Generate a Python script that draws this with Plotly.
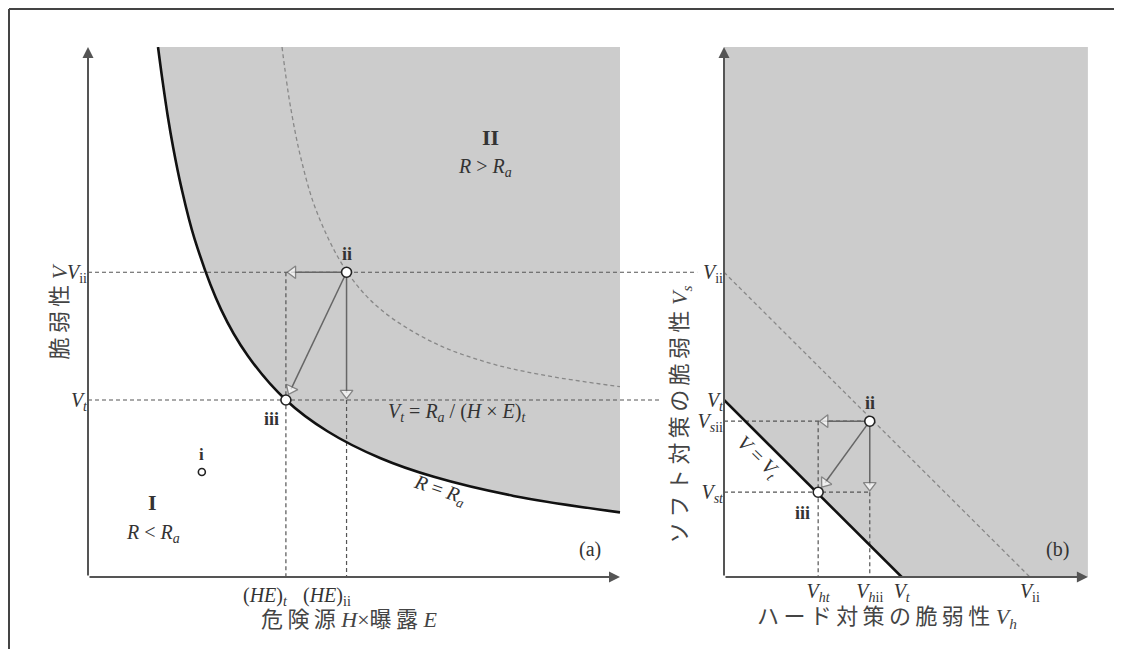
import math
import plotly.graph_objects as go

# the page body has an 8px margin; the figure is sized to fill the window exactly
PAGE_W, PAGE_H = 1122, 657
BODY = 8
W, H = PAGE_W - 2 * BODY, PAGE_H - 2 * BODY

# ---------------- data: panel (a) ----------------
HE_t, HE_ii = 3.72, 4.86          # (HE)_t, (HE)_ii
V_t, V_ii = 3.34, 5.75            # V_t, V_ii
point_i = (2.14, 1.98)            # state i

# R = Ra boundary
curve_R_HE = [1.316, 1.4, 1.5, 1.6, 1.75, 2.0, 2.5, 3.0, 3.72, 4.5, 5.5, 6.5, 8.0, 10.0]
curve_R_V = [10.0, 9.37, 8.69, 8.11, 7.37, 6.39, 5.05, 4.18, 3.34, 2.75, 2.24, 1.89, 1.53, 1.22]
# dashed iso-risk curve through ii
curve_ii_HE = [3.647, 3.7, 3.8, 4.0, 4.3, 4.86, 5.5, 6.5, 7.5, 8.5, 10.0]
curve_ii_V = [10.0, 9.59, 8.91, 7.91, 6.89, 5.77, 5.05, 4.42, 4.05, 3.82, 3.59]

a_ytick_vals = [V_ii, V_t]
a_ytick_text = ["<i>V</i><sub>ii</sub>", "<i>V</i><sub><i>t</i></sub>"]
a_xtick_vals = [HE_t, HE_ii]
a_xtick_text = ["(<i>HE</i>)<sub><i>t</i></sub>", "(<i>HE</i>)<sub>ii</sub>"]

# ---------------- data: panel (b) ----------------
V_ht, V_hii = 1.77, 2.74
V_st, V_sii = 1.60, 2.94

b_xtick_vals = [V_ht, V_hii, V_t, V_ii]
b_xtick_text = ["<i>V</i><sub><i>ht</i></sub>", "<i>V</i><sub><i>h</i>ii</sub>",
                "<i>V</i><sub><i>t</i></sub>", "<i>V</i><sub>ii</sub>"]
b_ytick_vals = [V_ii, V_t, V_sii, V_st]
b_ytick_text = ["<i>V</i><sub>ii</sub>", "<i>V</i><sub><i>t</i></sub>",
                "<i>V</i><sub><i>s</i>ii</sub>", "<i>V</i><sub><i>st</i></sub>"]

# ---------------- layout geometry (screen pixels) ----------------
SX, SY = 53.2, 53.0
A_X0_PX, B_X0_PX, Y0_PX = 88, 724, 577
A_XRANGE, A_AXIS_END = 11.55, 10.0
B_XRANGE = 6.84
Y_RANGE = 10.0
VII_GUIDE_END = 11.45
VT_GUIDE_END = 10.79


def px_x(sx):
    return (sx - BODY) / W


def px_y(sy):
    return (H - (sy - BODY)) / H


dom_ax = [px_x(A_X0_PX), px_x(A_X0_PX + A_XRANGE * SX)]
dom_bx = [px_x(B_X0_PX), px_x(B_X0_PX + B_XRANGE * SX)]
dom_y = [px_y(Y0_PX), px_y(Y0_PX - Y_RANGE * SY)]

FILL = "#cccccc"
GUIDE = "#555555"
ARROW = "#666666"
TXT = "#333333"
FONT = "Liberation Serif, Noto Sans CJK JP"

fig = go.Figure()


def line(xs, ys, xa, ya, color=GUIDE, width=1.2, dash="4px,3px"):
    fig.add_trace(go.Scatter(x=xs, y=ys, xaxis=xa, yaxis=ya, mode="lines",
                             line=dict(color=color, width=width, dash=dash),
                             hoverinfo="skip", showlegend=False))


def arrow(xa, ya, x0, y0, x1, y1, off=0.13):
    dx, dy = x1 - x0, y1 - y0
    L = math.hypot(dx, dy)
    hx, hy = x1 - dx / L * off, y1 - dy / L * off
    fig.add_trace(go.Scatter(
        x=[x0, hx], y=[y0, hy], xaxis=xa, yaxis=ya, mode="lines+markers",
        line=dict(color=ARROW, width=1.5),
        marker=dict(symbol="triangle-up", size=[0, 11], color="white",
                    angleref="previous", line=dict(color=ARROW, width=1.3)),
        hoverinfo="skip", showlegend=False))


def points(xs, ys, xa, ya, size=10):
    fig.add_trace(go.Scatter(x=xs, y=ys, xaxis=xa, yaxis=ya, mode="markers",
                             marker=dict(symbol="circle", size=size, color="white",
                                         line=dict(color="#222222", width=1.6)),
                             hoverinfo="skip", showlegend=False))


# ---------- panel (a) ----------
fill_x = curve_R_HE + [A_AXIS_END, curve_R_HE[0]]
fill_y = curve_R_V + [Y_RANGE, Y_RANGE]
fig.add_trace(go.Scatter(x=fill_x, y=fill_y, xaxis="x", yaxis="y", mode="lines",
                         fill="toself", fillcolor=FILL, line=dict(width=0),
                         hoverinfo="skip", showlegend=False))

line([0, VII_GUIDE_END], [V_ii, V_ii], "x", "y")
line([0, VT_GUIDE_END], [V_t, V_t], "x", "y")
line([HE_t, HE_t], [V_ii, 0], "x", "y")
line([HE_ii, HE_ii], [V_t, 0], "x", "y")
fig.add_trace(go.Scatter(x=curve_ii_HE, y=curve_ii_V, xaxis="x", yaxis="y", mode="lines",
                         line=dict(color="#888888", width=1.3, dash="4px,3px", shape="spline"),
                         hoverinfo="skip", showlegend=False))
fig.add_trace(go.Scatter(x=curve_R_HE, y=curve_R_V, xaxis="x", yaxis="y", mode="lines",
                         line=dict(color="#111111", width=2.6, shape="spline"),
                         hoverinfo="skip", showlegend=False))

arrow("x", "y", HE_ii, V_ii, HE_t, V_ii, 0.13)
arrow("x", "y", HE_ii, V_ii, HE_ii, V_t, 0.13)
arrow("x", "y", HE_ii, V_ii, HE_t, V_t, 0.22)
points([HE_ii, HE_t], [V_ii, V_t], "x", "y", 10)
points([point_i[0]], [point_i[1]], "x", "y", 7)

# ---------- panel (b) ----------
fig.add_trace(go.Scatter(x=[0, V_t, B_XRANGE, B_XRANGE, 0],
                         y=[V_t, 0, 0, Y_RANGE, Y_RANGE],
                         xaxis="x2", yaxis="y2", mode="lines", fill="toself",
                         fillcolor=FILL, line=dict(width=0),
                         hoverinfo="skip", showlegend=False))
line([0, V_ii], [V_ii, 0], "x2", "y2", color="#888888", width=1.3)
line([0, V_hii], [V_sii, V_sii], "x2", "y2")
line([0, V_hii], [V_st, V_st], "x2", "y2")
line([V_ht, V_ht], [V_sii, 0], "x2", "y2")
line([V_hii, V_hii], [V_st, 0], "x2", "y2")
line([0, V_t], [V_t, 0], "x2", "y2", color="#111111", width=2.6, dash="solid")

arrow("x2", "y2", V_hii, V_sii, V_ht, V_sii, 0.13)
arrow("x2", "y2", V_hii, V_sii, V_hii, V_st, 0.13)
arrow("x2", "y2", V_hii, V_sii, V_ht, V_st, 0.22)
points([V_hii, V_ht], [V_sii, V_st], "x2", "y2", 10)

# ---------- axes ----------
axis_common = dict(showgrid=False, zeroline=False, showline=False, ticks="",
                   tickangle=0, fixedrange=True,
                   tickfont=dict(family=FONT, size=20, color=TXT))
fig.update_layout(
    width=W, height=H, margin=dict(l=0, r=0, t=0, b=0),
    paper_bgcolor="white", plot_bgcolor="rgba(0,0,0,0)",
    xaxis=dict(domain=dom_ax, range=[0, A_XRANGE], anchor="y",
               showticklabels=False, **axis_common),
    yaxis=dict(domain=dom_y, range=[0, Y_RANGE], anchor="x",
               tickvals=a_ytick_vals, ticktext=a_ytick_text, **axis_common),
    xaxis2=dict(domain=dom_bx, range=[0, B_XRANGE], anchor="y2",
                tickvals=b_xtick_vals, ticktext=b_xtick_text, **axis_common),
    yaxis2=dict(domain=dom_y, range=[0, Y_RANGE], anchor="x2",
                tickvals=b_ytick_vals, ticktext=b_ytick_text, **axis_common),
    showlegend=False,
)

ann = []


def axis_arrow(xr, yr, x, y):
    ann.append(dict(xref=xr, yref=yr, axref=xr, ayref=yr, x=x, y=y, ax=0, ay=0,
                    text="", showarrow=True, arrowhead=2, arrowsize=1.1,
                    arrowwidth=2, arrowcolor="#555555", standoff=0))


axis_arrow("x", "y", A_AXIS_END, 0)
axis_arrow("x", "y", 0, Y_RANGE)
axis_arrow("x2", "y2", B_XRANGE, 0)
axis_arrow("x2", "y2", 0, Y_RANGE)


def text(xr, yr, x, y, t, size=20, **kw):
    d = dict(xref=xr, yref=yr, x=x, y=y, text=t, showarrow=False,
             font=dict(family=FONT, size=size, color=kw.pop("color", TXT)))
    d.update(kw)
    ann.append(d)


# panel (a) texts
text("x", "y", 7.56, 8.30, "<b>II</b>", 22)
text("x", "y", 7.46, 7.72, "<i>R</i> &gt; <i>R</i><sub><i>a</i></sub>", 20)
text("x", "y", 1.22, 1.40, "<b>I</b>", 22)
text("x", "y", 1.22, 0.83, "<i>R</i> &lt; <i>R</i><sub><i>a</i></sub>", 20)
text("x", "y", point_i[0], point_i[1], "<b>i</b>", 17, yshift=18)
text("x", "y", HE_ii, V_ii, "<b>ii</b>", 18, yshift=18)
text("x", "y", HE_t, V_t, "<b>iii</b>", 18, xshift=-14, yshift=-19)
text("x", "y", 6.94, 3.11,
     "<i>V</i><sub><i>t</i></sub> = <i>R</i><sub><i>a</i></sub> / (<i>H</i> × <i>E</i>)<sub><i>t</i></sub>", 20)
text("x", "y", 6.62, 1.64, "<i>R</i> = <i>R</i><sub><i>a</i></sub>", 20, textangle=19)
text("x", "y", 9.44, 0.51, "(a)", 20)
for v, t, sh in zip(a_xtick_vals, a_xtick_text, [4, 6]):
    text("x", "y", v, 0, t, 20, xanchor="right", xshift=sh, yshift=-19)
TS = "\u2009"
text("x", "y", 4.92, 0, f"危{TS}険{TS}源 <i>H</i>×曝{TS}露 <i>E</i>", 22, yshift=-42,
     color="#444444")
text("paper", "y", px_x(44), 5.0, f"脆{TS}弱{TS}性 <i>V</i>", 22, textangle=-90,
     color="#444444")

# panel (b) texts
text("x2", "y2", V_hii, V_sii, "<b>ii</b>", 18, yshift=18)
text("x2", "y2", V_ht, V_st, "<b>iii</b>", 18, xshift=-16, yshift=-21)
text("x2", "y2", 0.64, 2.26, "<i>V</i> = <i>V</i><sub><i>t</i></sub>", 20, textangle=44)
text("x2", "y2", 6.26, 0.51, "(b)", 20)
text("x2", "y2", 3.06, 0, TS.join("ハード対策の脆弱性") + " <i>V</i><sub><i>h</i></sub>", 22,
     yshift=-41, color="#444444")
text("paper", "y2", px_x(681), 3.06, TS.join("ソフト対策の脆弱性") + " <i>V</i><sub><i>s</i></sub>",
     22, textangle=-90, color="#444444")

fig.update_layout(annotations=ann)

# outer frame (left and top edges)
fig.add_shape(type="line", xref="paper", yref="paper", x0=1 / W, x1=1 / W, y0=0, y1=1 - 1 / H,
              line=dict(color="#444444", width=2))
fig.add_shape(type="line", xref="paper", yref="paper", x0=1 / W, x1=1, y0=1 - 1 / H, y1=1 - 1 / H,
              line=dict(color="#444444", width=2))

fig.write_html("out.html")
